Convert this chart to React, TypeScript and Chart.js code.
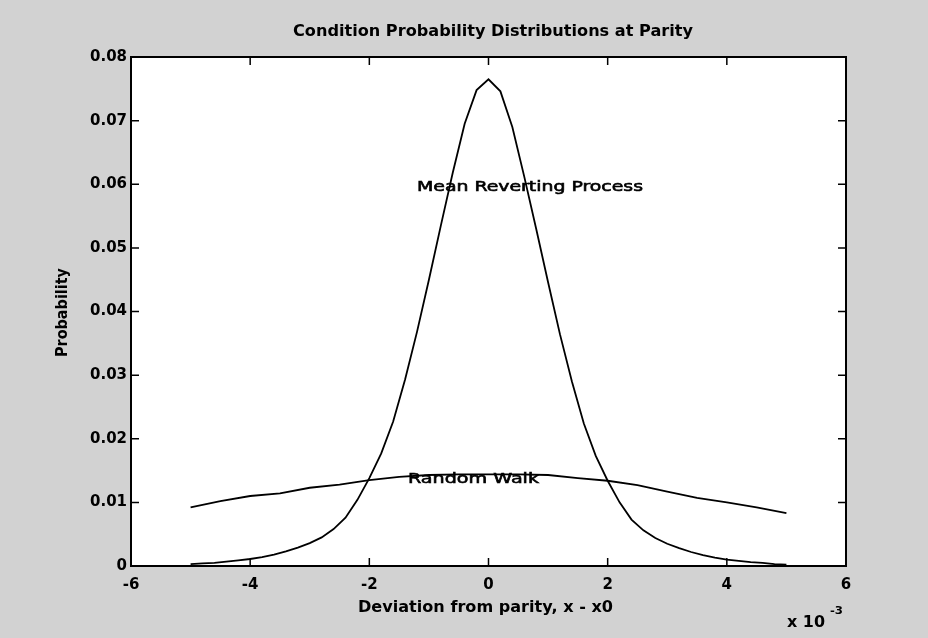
import React, { useEffect, useRef } from "react";
import { Chart, registerables } from "chart.js";

Chart.register(...registerables);

// Mean reverting process (x in units of 1e-3)
const mrX = [
  -5, -4.8, -4.6, -4.4, -4.2, -4, -3.8, -3.6, -3.4, -3.2, -3, -2.8, -2.6, -2.4, -2.2, -2, -1.8, -1.6, -1.4, -1.2, -1, -0.8, -0.6, -0.4, -0.2,
  0,
  0.2, 0.4, 0.6, 0.8, 1, 1.2, 1.4, 1.6, 1.8, 2, 2.2, 2.4, 2.6, 2.8, 3, 3.2, 3.4, 3.6, 3.8, 4, 4.2, 4.4, 4.6, 4.8, 5,
];
const mrY = [
  0.0003, 0.0004, 0.0005, 0.0007, 0.0009, 0.0011, 0.0014, 0.0018, 0.0023, 0.0029, 0.0036, 0.0045, 0.0058, 0.0076, 0.0104, 0.0138, 0.0177, 0.0227, 0.0293, 0.0368, 0.045, 0.0535, 0.0618, 0.0695, 0.0748,
  0.0765,
  0.0746, 0.069, 0.0612, 0.053, 0.0446, 0.0364, 0.029, 0.0224, 0.0173, 0.0134, 0.01, 0.0073, 0.0056, 0.0044, 0.0035, 0.0028, 0.0022, 0.0017, 0.0013, 0.001, 0.0008, 0.0006, 0.0005, 0.0003, 0.0002,
];

// Random walk
const rwX = [-5, -4.5, -4, -3.5, -3, -2.5, -2, -1.5, -1, -0.5, 0, 0.5, 1, 1.5, 2, 2.5, 3, 3.5, 4, 4.5, 5];
const rwY = [
  0.0092, 0.0102, 0.011, 0.0114, 0.0123, 0.0128, 0.0135, 0.014, 0.0143, 0.0144, 0.0144, 0.0144, 0.0143, 0.0138, 0.0134, 0.0127,
  0.0117, 0.0107, 0.01, 0.0092, 0.0083,
];

const xTicks = [-6, -4, -2, 0, 2, 4, 6];
const xTickLabels = ["-6", "-4", "-2", "0", "2", "4", "6"];
const yTicks = [0, 0.01, 0.02, 0.03, 0.04, 0.05, 0.06, 0.07, 0.08];
const yTickLabels = ["0", "0.01", "0.02", "0.03", "0.04", "0.05", "0.06", "0.07", "0.08"];

const titleText = "Condition Probability Distributions at Parity";
const xTitle = "Deviation from parity, x - x0";
const yTitle = "Probability";
const xScaleText = "x 10";
const xScaleExp = "-3";
const mrLabel = "Mean Reverting Process";
const rwLabel = "Random Walk";

const FONT = '"DejaVu Sans", "Liberation Sans", Arial, sans-serif';

function fitText(ctx: CanvasRenderingContext2D, text: string, x0: number, x1: number, yc: number, font: string, stroke = 0) {
  ctx.save();
  ctx.font = font;
  ctx.textBaseline = "middle";
  ctx.textAlign = "left";
  const w = ctx.measureText(text).width;
  const sx = (x1 - x0) / w;
  ctx.translate(x0, yc);
  ctx.scale(sx, 1);
  ctx.fillStyle = "#000";
  ctx.fillText(text, 0, 0);
  if (stroke > 0) {
    ctx.strokeStyle = "#000";
    ctx.lineWidth = stroke;
    ctx.strokeText(text, 0, 0);
  }
  ctx.restore();
}

const decor = {
  id: "decor",
  beforeDraw(chart: any) {
    const { ctx, chartArea: a, width, height } = chart;
    ctx.save();
    ctx.fillStyle = "#d2d2d2";
    ctx.fillRect(0, 0, width, height);
    ctx.fillStyle = "#ffffff";
    ctx.fillRect(a.left, a.top, a.right - a.left, a.bottom - a.top);
    ctx.restore();
  },
  afterDraw(chart: any) {
    const { ctx, chartArea: a } = chart;
    const xs = chart.scales.x;
    const ys = chart.scales.y;
    ctx.save();
    ctx.strokeStyle = "#000";
    ctx.lineWidth = 2;
    ctx.strokeRect(a.left, a.top, a.right - a.left, a.bottom - a.top);
    ctx.lineWidth = 1.5;
    const tl = 8;
    ctx.beginPath();
    xTicks.slice(1, -1).forEach((v) => {
      const px = xs.getPixelForValue(v);
      ctx.moveTo(px, a.bottom);
      ctx.lineTo(px, a.bottom - tl);
      ctx.moveTo(px, a.top);
      ctx.lineTo(px, a.top + tl);
    });
    yTicks.slice(1, -1).forEach((v) => {
      const py = ys.getPixelForValue(v);
      ctx.moveTo(a.left, py);
      ctx.lineTo(a.left + tl, py);
      ctx.moveTo(a.right, py);
      ctx.lineTo(a.right - tl, py);
    });
    ctx.stroke();
    ctx.restore();

    fitText(ctx, titleText, 293, 693, 32, `bold 15px ${FONT}`);
    fitText(ctx, xTitle, 358, 613, 608, `bold 15px ${FONT}`);
    fitText(ctx, xScaleText, 787, 825, 623, `bold 15px ${FONT}`);
    fitText(ctx, xScaleExp, 830, 843, 611, `bold 11px ${FONT}`);
    fitText(ctx, mrLabel, 417, 643, 187, `14px ${FONT}`, 0.6);
    fitText(ctx, rwLabel, 408, 539, 479, `14px ${FONT}`, 0.6);

    // rotated y title
    ctx.save();
    ctx.translate(63, 357);
    ctx.rotate(-Math.PI / 2);
    ctx.font = `bold 15px ${FONT}`;
    ctx.textBaseline = "middle";
    const w = ctx.measureText(yTitle).width;
    ctx.scale((357 - 268) / w, 1);
    ctx.fillStyle = "#000";
    ctx.fillText(yTitle, 0, 0);
    ctx.restore();
  },
};

export default function App() {
  const ref = useRef<HTMLCanvasElement>(null);
  useEffect(() => {
    document.body.style.margin = "0";
    const canvas = ref.current;
    if (!canvas) return;
    const chart = new Chart(canvas, {
      type: "line",
      data: {
        datasets: [
          {
            label: mrLabel,
            data: mrX.map((x, i) => ({ x, y: mrY[i] })),
            borderColor: "#000",
            borderWidth: 1.8,
            pointRadius: 0,
            tension: 0,
            fill: false,
          },
          {
            label: rwLabel,
            data: rwX.map((x, i) => ({ x, y: rwY[i] })),
            borderColor: "#000",
            borderWidth: 1.8,
            pointRadius: 0,
            tension: 0,
            fill: false,
          },
        ],
      },
      options: {
        animation: false,
        responsive: false,
        maintainAspectRatio: false,
        layout: { padding: { top: 57, right: 82, bottom: 0, left: 0 } },
        plugins: { legend: { display: false }, title: { display: false }, tooltip: { enabled: false } },
        scales: {
          x: {
            type: "linear",
            min: -6,
            max: 6,
            grid: { display: false, drawTicks: false },
            border: { display: false },
            afterBuildTicks: (s: any) => {
              s.ticks = xTicks.map((v) => ({ value: v }));
            },
            afterFit: (s: any) => {
              s.height = 72;
            },
            ticks: {
              color: "#000",
              padding: 10,
              maxRotation: 0,
              autoSkip: false,
              font: { family: FONT, size: 15, weight: "bold" },
              callback: (v: any) => xTickLabels[xTicks.indexOf(Number(v))] ?? "",
            },
          },
          y: {
            type: "linear",
            min: 0,
            max: 0.08,
            grid: { display: false, drawTicks: false },
            border: { display: false },
            afterBuildTicks: (s: any) => {
              s.ticks = yTicks.map((v) => ({ value: v }));
            },
            afterFit: (s: any) => {
              s.width = 131;
            },
            ticks: {
              color: "#000",
              padding: 4,
              autoSkip: false,
              font: { family: FONT, size: 15, weight: "bold" },
              callback: (v: any) => {
                const i = yTicks.findIndex((t) => Math.abs(t - Number(v)) < 1e-9);
                return i >= 0 ? yTickLabels[i] : "";
              },
            },
          },
        },
      },
      plugins: [decor],
    });
    return () => chart.destroy();
  }, []);
  return (
    <div style={{ width: 928, height: 638 }}>
      <canvas ref={ref} width={928} height={638} style={{ display: "block" }} />
    </div>
  );
}
